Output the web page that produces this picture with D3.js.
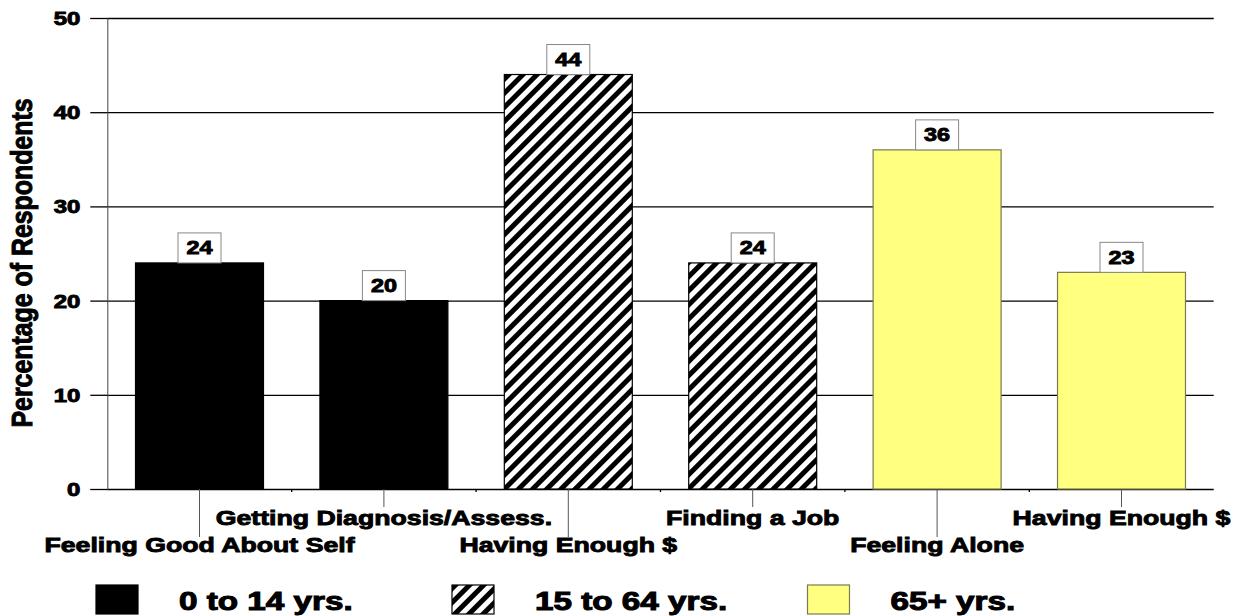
<!DOCTYPE html>
<html>
<head>
<meta charset="utf-8">
<script src="https://cdn.jsdelivr.net/npm/d3@7"></script>
<style>
  html, body { margin: 0; padding: 0; background: #fff; }
  svg text { font-family: "Liberation Sans", Arial, sans-serif; font-weight: bold; fill: #000; }
</style>
</head>
<body>
<svg id="chart" width="1239" height="616"></svg>
<script>
// Concerns reported by respondents, grouped by age
const categories = [
  "Feeling Good About Self",
  "Getting Diagnosis/Assess.",
  "Having Enough $",
  "Finding a Job",
  "Feeling Alone",
  "Having Enough $ "
];
const values = [24, 20, 44, 24, 36, 23];
const ageGroupOf = ["0 to 14 yrs.", "0 to 14 yrs.", "15 to 64 yrs.", "15 to 64 yrs.", "65+ yrs.", "65+ yrs."];
const ageGroups = ["0 to 14 yrs.", "15 to 64 yrs.", "65+ yrs."];
const yTicks = [0, 10, 20, 30, 40, 50];
const yTitle = "Percentage of Respondents";

const svg = d3.select("#chart");

const plot = { left: 107.3, right: 1213.7, top: 18, bottom: 489 };

const x = d3.scaleBand()
  .domain(categories)
  .range([plot.left, plot.right])
  .paddingInner(0.306)
  .paddingOuter(0.153);

const y = d3.scaleLinear()
  .domain([0, 50])
  .range([plot.bottom, plot.top]);

// hatch pattern for the middle age group
const defs = svg.append("defs");
const pat = defs.append("pattern")
  .attr("id", "hatch")
  .attr("patternUnits", "userSpaceOnUse")
  .attr("width", 10).attr("height", 10)
  .attr("patternTransform", "rotate(45)");
pat.append("rect").attr("width", 10).attr("height", 10).attr("fill", "#fff");
pat.append("rect").attr("width", 5).attr("height", 10).attr("fill", "#000");

const groupStyle = {
  "0 to 14 yrs.": { fill: "#000", stroke: "#000" },
  "15 to 64 yrs.": { fill: "url(#hatch)", stroke: "#000" },
  "65+ yrs.": { fill: "#ffff80", stroke: "#7a7a50" }
};

// horizontal gridlines
const grid = svg.append("g")
  .attr("transform", `translate(${plot.left},0)`)
  .call(d3.axisLeft(y).tickValues(yTicks).tickSize(-(plot.right - plot.left)).tickFormat(""));
grid.select(".domain").remove();
grid.selectAll("line").attr("stroke", "#000").attr("stroke-width", 1.3);

// y axis with outward ticks and labels
const yAxis = svg.append("g")
  .attr("transform", `translate(${plot.left},0)`)
  .call(d3.axisLeft(y).tickValues(yTicks).tickSize(17).tickPadding(10));
yAxis.select(".domain").attr("stroke", "#444").attr("stroke-width", 1);
yAxis.selectAll(".tick line").attr("stroke", "#000").attr("stroke-width", 1.3);
yAxis.selectAll(".tick text")
  .attr("font-size", 18)
  .attr("dy", "0.36em")
  .each(function () {
    const t = d3.select(this);
    const xx = +t.attr("x");
    t.attr("x", 0).attr("text-anchor", "end")
      .attr("transform", `translate(${xx},0) scale(1.33,1)`)
      .attr("stroke", "#000").attr("stroke-width", 0.9);
  });

// y title
svg.append("text")
  .attr("transform", `translate(32,263) rotate(-90) scale(0.83,1)`)
  .attr("text-anchor", "middle")
  .attr("font-size", 30)
  .attr("stroke", "#000").attr("stroke-width", 1)
  .text(yTitle);

// bars
svg.append("g").selectAll("rect")
  .data(categories)
  .join("rect")
  .attr("x", d => x(d))
  .attr("y", (d, i) => y(values[i]))
  .attr("width", x.bandwidth())
  .attr("height", (d, i) => y(0) - y(values[i]))
  .attr("fill", (d, i) => groupStyle[ageGroupOf[i]].fill)
  .attr("stroke", (d, i) => groupStyle[ageGroupOf[i]].stroke)
  .attr("stroke-width", 1.2);

// bottom axis: long ticks to staggered labels
const xAxis = svg.append("g")
  .attr("transform", `translate(0,${plot.bottom})`)
  .call(d3.axisBottom(x).tickSize(48).tickPadding(0));
xAxis.select(".domain").remove();
xAxis.selectAll(".tick line")
  .attr("stroke", "#555").attr("stroke-width", 1)
  .attr("y2", (d, i) => i % 2 === 0 ? 48 : 18);
xAxis.selectAll(".tick text")
  .attr("font-size", 21)
  .attr("dy", 0)
  .attr("y", 0)
  .attr("transform", (d, i) => `translate(0,${i % 2 === 0 ? 63 : 36}) scale(1.27,1)`)
  .attr("stroke", "#000").attr("stroke-width", 0.9);

// short ticks between categories
const gap = x.step() - x.bandwidth();
svg.append("g").selectAll("line")
  .data(categories.slice(1))
  .join("line")
  .attr("x1", d => x(d) - gap / 2)
  .attr("x2", d => x(d) - gap / 2)
  .attr("y1", plot.bottom)
  .attr("y2", plot.bottom + 3)
  .attr("stroke", "#000").attr("stroke-width", 1.3);

// value labels in boxes
const lbl = svg.append("g").selectAll("g")
  .data(categories)
  .join("g")
  .attr("transform", (d, i) => `translate(${x(d) + x.bandwidth() / 2},${y(values[i])})`);
lbl.append("rect")
  .attr("x", -21.5).attr("y", -30)
  .attr("width", 43).attr("height", 30)
  .attr("fill", "#fff").attr("stroke", "#888").attr("stroke-width", 1);
lbl.append("text")
  .attr("text-anchor", "middle")
  .attr("font-size", 18)
  .attr("transform", "translate(0,-8.5) scale(1.3,1)")
  .attr("stroke", "#000").attr("stroke-width", 0.9)
  .text((d, i) => values[i]);

// legend
const legendX = [96, 452, 807.5];
const leg = svg.append("g").selectAll("g")
  .data(ageGroups)
  .join("g")
  .attr("transform", (d, i) => `translate(${legendX[i]},585)`);
leg.append("rect")
  .attr("width", 42).attr("height", 29)
  .attr("fill", d => groupStyle[d].fill)
  .attr("stroke", d => groupStyle[d].stroke)
  .attr("stroke-width", 1.2);
leg.append("text")
  .attr("transform", "translate(83,25) scale(1.33,1)")
  .attr("font-size", 25)
  .attr("stroke", "#000").attr("stroke-width", 1)
  .attr("stroke", "#000")
  .text(d => d);
</script>
</body>
</html>
